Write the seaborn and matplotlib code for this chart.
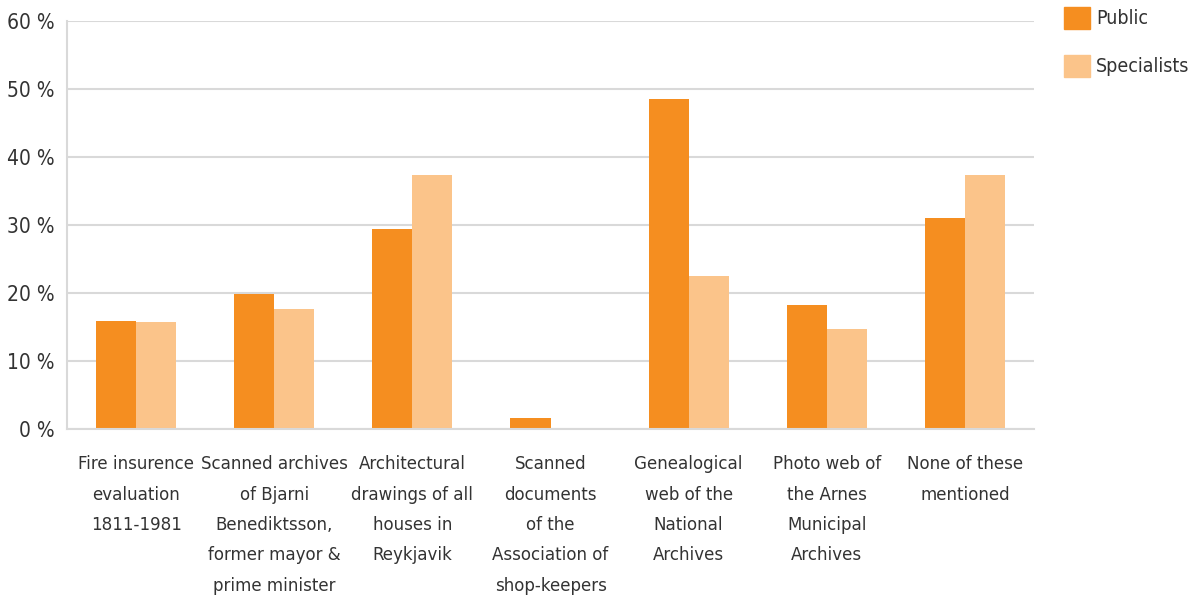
import matplotlib
matplotlib.use("Agg")
import matplotlib.pyplot as plt
import matplotlib.patches as mpatches
import seaborn as sns
import pandas as pd

categories = [
    "Fire insurence\nevaluation\n1811-1981",
    "Scanned archives\nof Bjarni\nBenediktsson,\nformer mayor &\nprime minister",
    "Architectural\ndrawings of all\nhouses in\nReykjavik",
    "Scanned\ndocuments\nof the\nAssociation of\nshop-keepers",
    "Genealogical\nweb of the\nNational\nArchives",
    "Photo web of\nthe Arnes\nMunicipal\nArchives",
    "None of these\nmentioned",
]
public = [15.9, 19.8, 29.4, 1.6, 48.6, 18.3, 31.0]
specialists = [15.7, 17.6, 37.4, 0.0, 22.5, 14.7, 37.4]
series = ["Public", "Specialists"]
colors = ["#F58E20", "#FBC48A"]
yticks = [0, 10, 20, 30, 40, 50, 60]

df = pd.DataFrame({
    "cat": categories * 2,
    "val": public + specialists,
    "series": [series[0]] * len(categories) + [series[1]] * len(categories),
})

sns.set_theme(style="white")
plt.rcParams["font.family"] = ["DejaVu Sans"]
plt.rcParams["font.stretch"] = "condensed"

fig = plt.figure(figsize=(11.94, 5.99), dpi=100)
ax = fig.add_axes([67 / 1194, 1 - 429 / 599, (1034 - 67) / 1194, (429 - 21) / 599])

sns.barplot(data=df, x="cat", y="val", hue="series", palette=colors,
            width=0.58, gap=0, linewidth=0, saturation=1, ax=ax, legend=False)

ax.set_xlim(-0.5, len(categories) - 0.5)
ax.set_ylim(0, 60)
ax.set_yticks(yticks)
ax.set_yticklabels([f"{t} %" for t in yticks], fontsize=15, color="#333333", fontstretch="condensed")
ax.set_xticks(range(len(categories)))
ax.set_xticklabels(categories, fontsize=13.3, color="#333333", linespacing=1.88, va="top",
                   fontstretch="condensed")
ax.tick_params(axis="both", length=0)
ax.tick_params(axis="y", pad=9)
ax.tick_params(axis="x", pad=19)
ax.set_xlabel("")
ax.set_ylabel("")
ax.yaxis.grid(True, color="#D9D9D9", linewidth=1.5)
ax.set_axisbelow(True)
for s in ["top", "right"]:
    ax.spines[s].set_visible(False)
for s in ["left", "bottom"]:
    ax.spines[s].set_color("#D9D9D9")
    ax.spines[s].set_linewidth(1.5)

handles = [mpatches.Patch(color=c, label=l) for c, l in zip(colors, series)]
fig.legend(handles=handles, loc="upper left", bbox_to_anchor=(1064 / 1194, 1 - 7 / 599),
           frameon=False, handlelength=1.35, handleheight=1.35,
           labelspacing=1.35, handletextpad=0.3, labelcolor="#333333", borderpad=0,
           borderaxespad=0,
           prop=dict(family="DejaVu Sans", stretch="condensed", size=14))

fig.savefig("out.png", dpi=100, facecolor="white")
